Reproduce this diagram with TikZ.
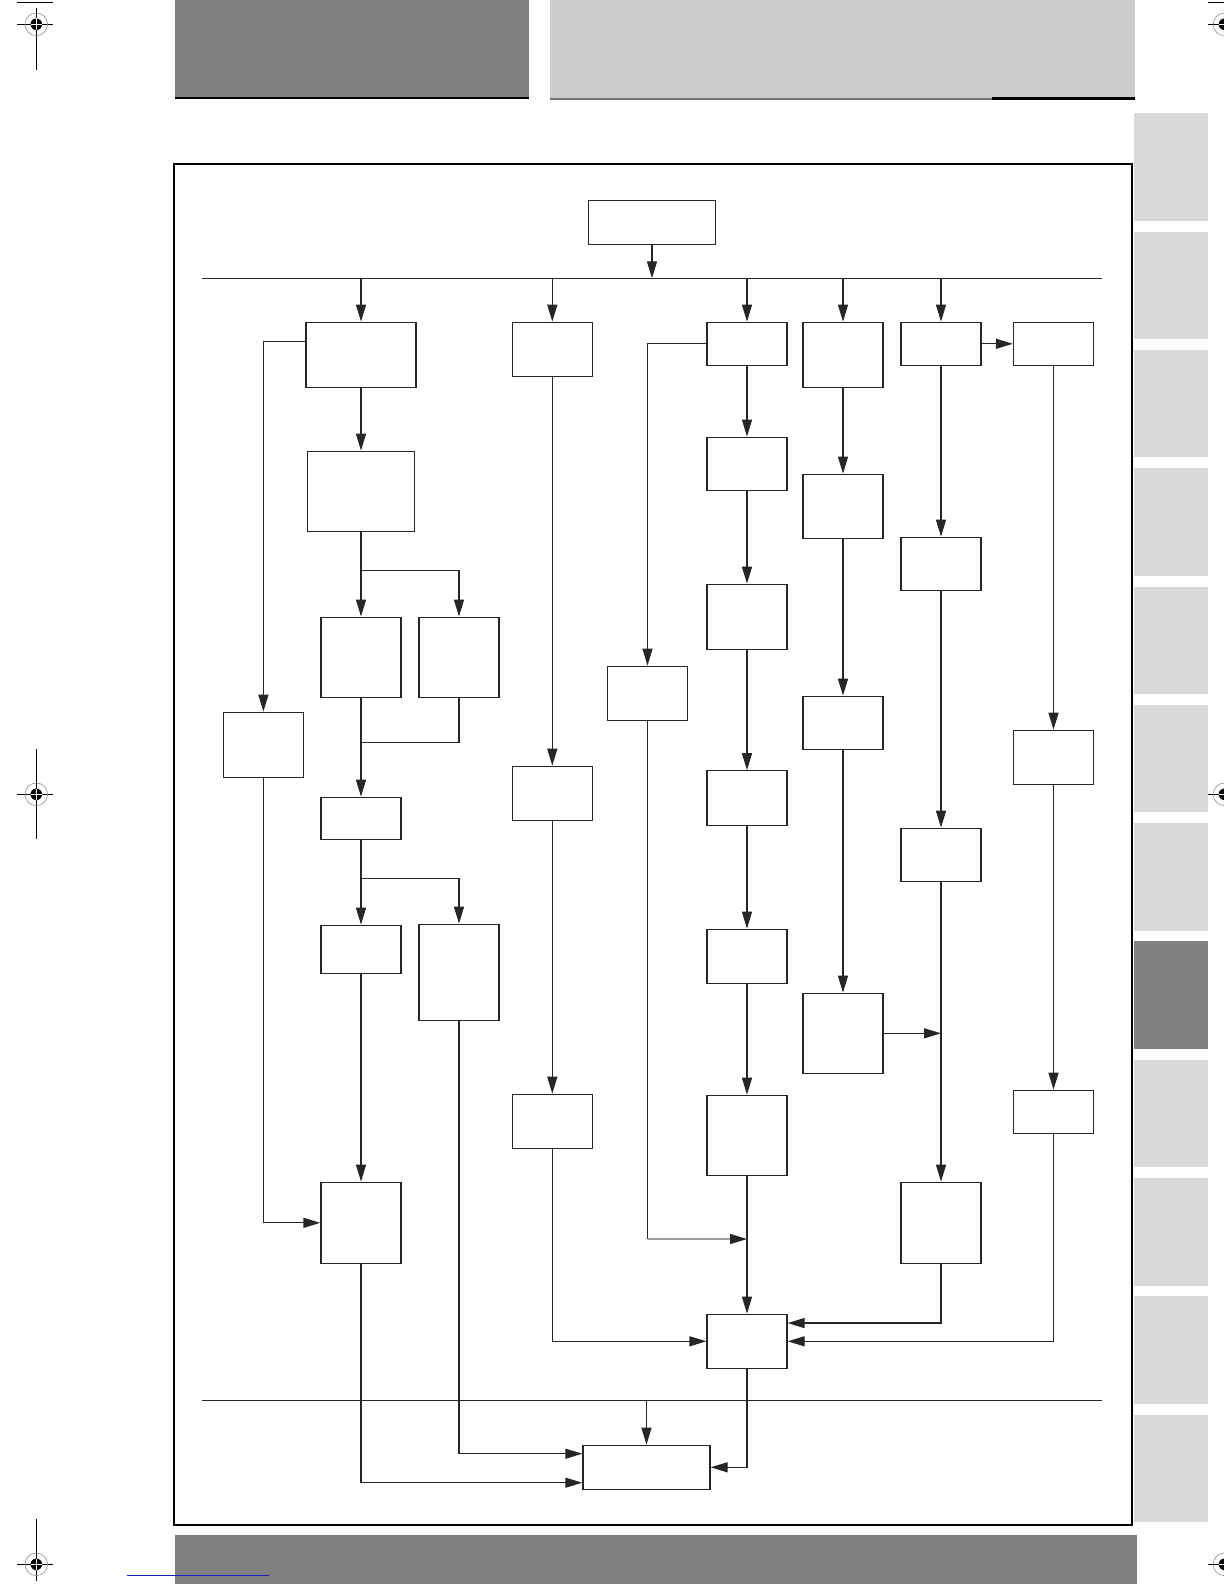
\documentclass[tikz,border=0pt]{standalone}
\usetikzlibrary{arrows.meta,calc}

\definecolor{headgray}{gray}{0.5}
\definecolor{headlight}{gray}{0.8}
\definecolor{tabgray}{gray}{0.85}
\definecolor{linkblue}{rgb}{0.12,0.12,0.72}

\begin{document}
\begin{tikzpicture}[x=0.5pt, y=-0.5pt,
        box/.style={draw=black!85, line width=0.65pt, inner sep=0pt, minimum width=40pt},
        wire/.style={draw=black!85, line width=0.65pt},
        flow/.style={wire, -{Triangle[length=8.5pt,width=5pt]}}]
                \useasboundingbox (0,0) rectangle (1224,1584);

                \fill[headgray] (174.5,0) rectangle (528.5,97.5);
                \draw[line width=1.1pt] (174.5,98) -- (528.5,98);
                \fill[headlight] (550,0) rectangle (1135,98);
                \draw[black!55, line width=0.6pt] (550,99) -- (992,99);
                \draw[line width=1.1pt] (992,98.5) -- (1135,98.5);

                \foreach \i in {0,...,11}
                    \fill[tabgray] (1134,113.3+118.3*\i) rectangle (1207.7,220.8+118.3*\i);
                \fill[headgray] (1134,941.4) rectangle (1207.7,1048.9);

                \fill[headgray] (175,1535) rectangle (1136.7,1584);
                \draw[linkblue, line width=0.5pt] (127,1575.3) -- (268.7,1575.3);

                \draw[line width=0.9pt] (174.3,164.3) rectangle (1131.6,1525);

                \draw (17,2.7) -- (52.7,2.7);
                \draw (1208,2.7) -- (1224,2.7);
                \draw (36.3,8) -- (36.3,70);
                \draw (36.3,749.3) -- (36.3,839.3);
                \draw (36.3,1519) -- (36.3,1581);
                \foreach \my in {24.3, 794.3, 1564.3} {
                    \draw (17,\my) -- (52.7,\my);
                    \draw (1208.3,\my) -- (1224,\my);
                }
                \foreach \mx/\my in {36.3/24.3, 36.3/794.3, 36.3/1564.3, 1224.5/24.3, 1224.5/794.3, 1224.5/1564.3} {
                    \draw[black!45, line width=0.3pt] (\mx,\my) circle (5.65pt);
                    \fill (\mx,\my) circle (2.9pt);
                    \draw[white, line width=0.35pt] (\mx-5.8,\my) -- (\mx+5.8,\my);
                    \draw[white, line width=0.35pt] (\mx,\my-5.8) -- (\mx,\my+5.8);
                }

                \node[box, minimum width=63.65pt, minimum height=22pt] (top) at (652,222.3) {};

                \node[box, minimum width=55pt, minimum height=32.5pt] (L1) at (361,354.8) {};
                \node[box, minimum width=53.5pt, minimum height=40pt] (L2) at (361,491.3) {};
                \node[box, minimum height=40pt] (L3a) at (361,657.2) {};
                \node[box, minimum height=40pt] (L3b) at (459,657.2) {};
                \node[box, minimum height=21pt] (L4) at (361,818.3) {};
                \node[box, minimum height=24pt] (L5a) at (361,949.3) {};
                \node[box, minimum height=48pt] (L5b) at (459,972.3) {};
                \node[box, minimum height=40.5pt] (L6) at (361,1222.8) {};
                \node[box, minimum height=32.5pt] (Lside) at (263.4,744.8) {};

                \node[box, minimum height=27pt] (M1) at (552.3,349.3) {};
                \node[box, minimum height=27pt] (M2) at (552.3,793.3) {};
                \node[box, minimum height=27pt] (M3) at (552.3,1121.3) {};

                \node[box, minimum height=27pt] (Cside) at (647.5,693.3) {};

                \node[box, minimum height=21.5pt] (C1) at (747,343.8) {};
                \node[box, minimum height=26.5pt] (C2) at (747,463.8) {};
                \node[box, minimum height=32.5pt] (C3) at (747,616.8) {};
                \node[box, minimum height=27.5pt] (C4) at (747,798.3) {};
                \node[box, minimum height=27pt] (C5) at (747,956.3) {};
                \node[box, minimum height=40pt] (C6) at (747,1135.3) {};
                \node[box, minimum height=27pt] (C7) at (747,1341.3) {};

                \node[box, minimum height=32.5pt] (D1) at (843,354.8) {};
                \node[box, minimum height=32pt] (D2) at (843,506.3) {};
                \node[box, minimum height=26.5pt] (D3) at (843,722.8) {};
                \node[box, minimum height=40pt] (D4) at (843,1033.3) {};

                \node[box, minimum height=21.5pt] (E1) at (941,343.8) {};
                \node[box, minimum height=26.5pt] (E2) at (941,563.8) {};
                \node[box, minimum height=26.5pt] (E3) at (941,854.8) {};
                \node[box, minimum height=40.5pt] (E4) at (941,1222.8) {};

                \node[box, minimum height=21.5pt] (F1) at (1053.5,343.8) {};
                \node[box, minimum height=27pt] (F2) at (1053.5,757.3) {};
                \node[box, minimum height=21.5pt] (F3) at (1053.5,1111.8) {};

                \node[box, minimum width=63.5pt, minimum height=22pt] (B) at (646.5,1467.3) {};

                \coordinate (busL) at (202,278.3);
                \coordinate (busR) at (1101.8,278.3);
                \coordinate (lowL) at (202,1400.3);
                \coordinate (lowR) at (1101.5,1400.3);
                \coordinate (split1) at (361,570.3);
                \coordinate (merge1) at (361,742.3);
                \coordinate (split2) at (361,878.3);
                \coordinate (joinC) at (747,1239);
                \coordinate (joinE) at (941,1033.3);

                \draw[wire] (busL) -- (busR);
                \draw[wire] (lowL) -- (lowR);
                \draw[flow] (top.south) -- (top.south |- busL);
                \foreach \n in {L1, M1, C1, D1, E1}
                    \draw[flow] (\n.north |- busL) -- (\n.north);
                \draw[flow] (B.north |- lowL) -- (B.north);

                \foreach \a/\b in {L1/L2, L2/L3a, L3a/L4, L4/L5a, L5a/L6, M1/M2, M2/M3,
                                   C1/C2, C2/C3, C3/C4, C4/C5, C5/C6, C6/C7,
                                   D1/D2, D2/D3, D3/D4, E1/E2, E2/E3, E3/E4,
                                   E1/F1, F1/F2, F2/F3}
                    \draw[flow] (\a) -- (\b);

                \draw[flow] (split1) -| (L3b.north);
                \draw[wire] (L3b.south) |- (merge1);
                \draw[flow] (split2) -| (L5b.north);

                \draw[flow] ($(L1.north west)!0.3!(L1.south west)$) -| (Lside.north);
                \draw[flow] (Lside.south) |- (L6.west);
                \draw[flow] (L5b.south) |- ($(B.north west)!0.2!(B.south west)$);
                \draw[flow] (L6.south) |- ($(B.north west)!0.84!(B.south west)$);

                \draw[flow] (M3.south) |- (C7.west);
                \draw[flow] (C1.west) -| (Cside.north);
                \draw[wire] (Cside.south) -- (Cside.south |- joinC);
                \draw[flow, draw=black!40, -{Triangle[length=8.5pt,width=5pt,black!85]}] (Cside.south |- joinC) -- (joinC);

                \draw[flow] (D4.east) -- (joinE);
                \draw[flow] (E4.south) |- ($(C7.north east)!0.17!(C7.south east)$);
                \draw[flow] (F3.south) |- (C7.east);
                \draw[flow] (C7.south) |- (B.east);
            \end{tikzpicture}
\end{document}
